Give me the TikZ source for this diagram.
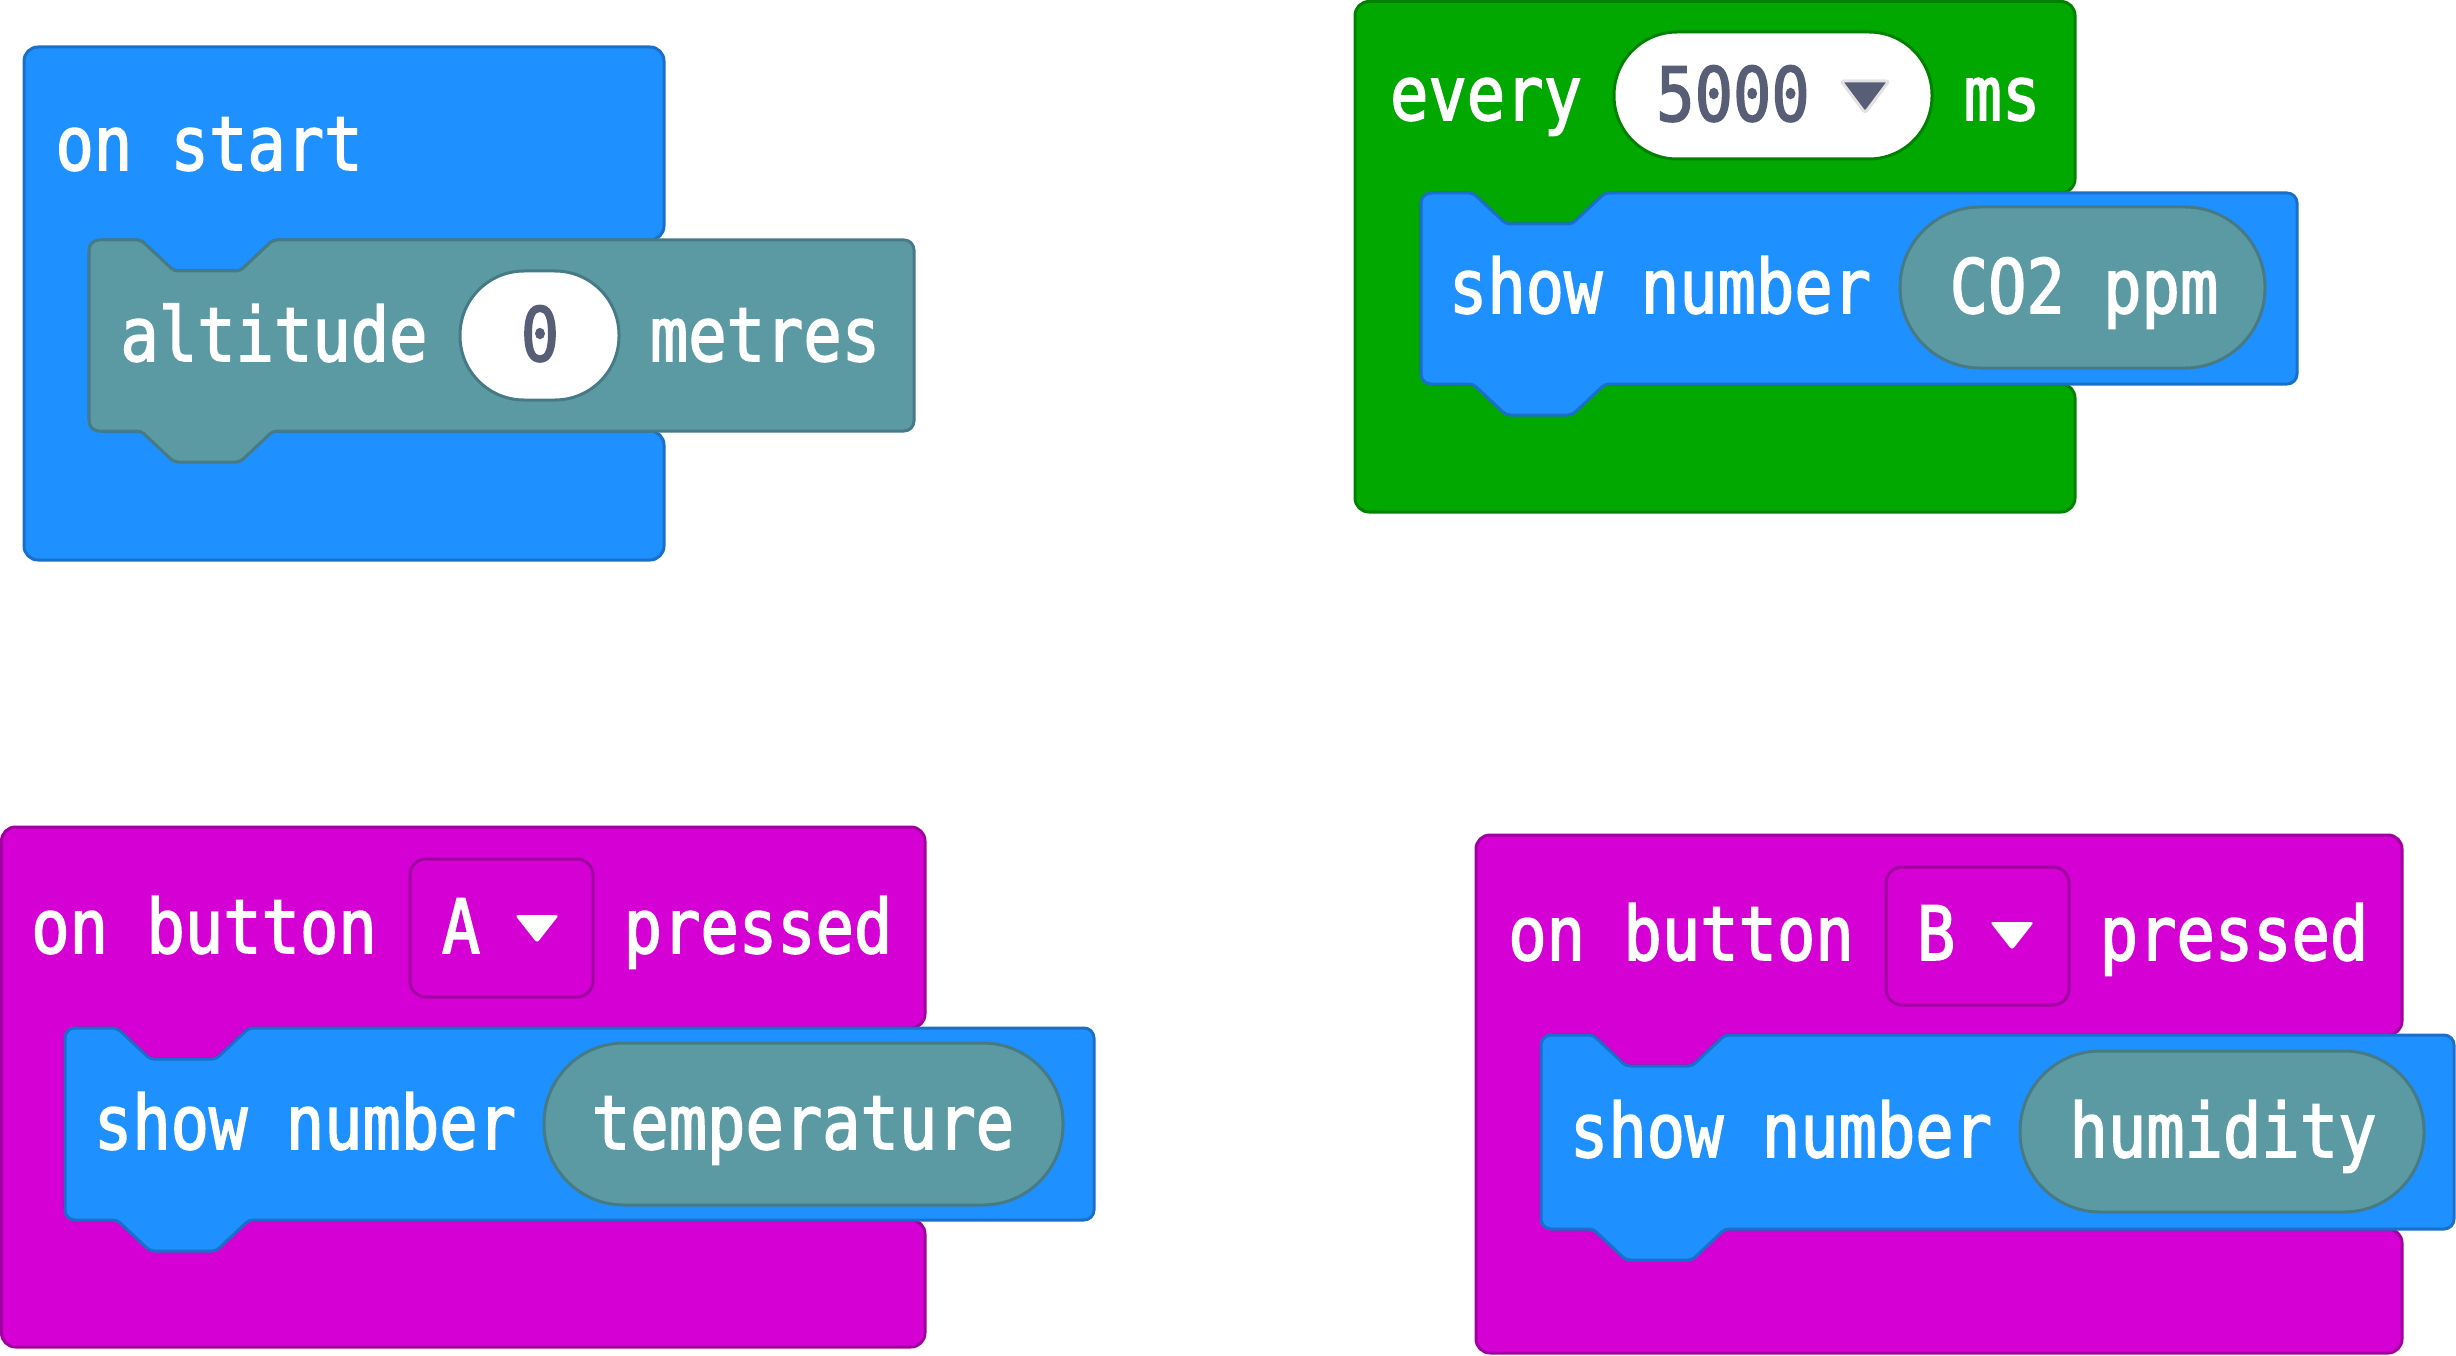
\documentclass[tikz,border=0pt]{standalone}
\usepackage{fontspec}
\newfontfamily\blockfont[FakeStretch=0.85,FakeBold=2]{DejaVu Sans Mono}
\usetikzlibrary{calc}
\definecolor{blkblue}{HTML}{1E90FF}
\definecolor{blkblueline}{HTML}{1A6FC8}
\definecolor{blkteal}{HTML}{5C9AA3}
\definecolor{blktealline}{HTML}{467A84}
\definecolor{blkgreen}{HTML}{00A800}
\definecolor{blkgreenline}{HTML}{008200}
\definecolor{blkpink}{HTML}{D400D4}
\definecolor{blkpinkline}{HTML}{A000A0}
\definecolor{valgrey}{HTML}{575E75}
\definecolor{arrowrim}{HTML}{E2E2E2}
\newcommand{\hatblock}[8]{%
  \filldraw[#1] (#2,#6) -- (#2,#3) -- (#4,#3) -- (#4,#6) [rounded corners=4pt] -- (#8+184,#6) -- (#8+151,#6+31)
    -- (#8+85,#6+31) -- (#8+52,#6) [rounded corners=14pt] -- (#8,#6) -- (#8,#7)
    -- (#4,#7) -- (#4,#5) -- (#2,#5) -- cycle;}
\newcommand{\stackblock}[5]{%
  \filldraw[#1] (#2,#3+60) -- (#2,#3) [rounded corners=4pt] -- (#2+52,#3) -- (#2+85,#3+31) -- (#2+151,#3+31)
    -- (#2+184,#3) [rounded corners=10pt] -- (#4,#3) -- (#4,#5) [rounded corners=4pt] -- (#2+184,#5) -- (#2+151,#5+31)
    -- (#2+85,#5+31) -- (#2+52,#5) [rounded corners=10pt] -- (#2,#5) -- cycle;}

\begin{document}
\begin{tikzpicture}[x=1pt,y=-1pt]
        \useasboundingbox (0,0) rectangle (2456,1356);
        \tikzset{
            lbl/.style={font=\blockfont\fontsize{75pt}{80pt}\selectfont, text=white, inner sep=0pt, anchor=base},
            val/.style={lbl, text=valgrey},
            outer/.style={line width=3pt, rounded corners=14pt},
            inner/.style={line width=3pt, rounded corners=10pt},
            pill/.style={line width=3pt, rounded corners=#1}
        }

        % on start
        \begin{scope}
            \hatblock{outer, fill=blkblue, draw=blkblueline}{24}{47}{664}{560}{240}{431}{89}
            \stackblock{inner, fill=blkteal, draw=blktealline}{89}{240}{914}{431}
            \filldraw[pill=64pt, fill=white, draw=blktealline] (460,271) rectangle (619,400);
            \node[lbl] (start) at (209,170) {on start};
            \node[lbl] (alt) at (274,361) {altitude};
            \node[val] (altval) at (540,361) {0};
            \node[lbl] (metres) at (765,361) {metres};
        \end{scope}

        % every 5000 ms
        \begin{scope}
            \hatblock{outer, fill=blkgreen, draw=blkgreenline}{1355}{1.5}{2075}{512}{193}{384}{1421}
            \stackblock{inner, fill=blkblue, draw=blkblueline}{1421}{193}{2297}{384}
            \filldraw[pill=63pt, fill=white, draw=blkgreenline] (1614,32) rectangle (1932,159);
            \filldraw[pill=80pt, fill=blkteal, draw=blktealline] (1900,207) rectangle (2265,368);
            \node[lbl] (every) at (1486,120) {every};
            \node[val] (period) at (1733,121) {5000};
            \filldraw[fill=valgrey, draw=arrowrim, line width=3pt, rounded corners=3pt]
                (1841,81) -- (1889,81) -- (1865,113) -- cycle;
            \node[lbl] (ms) at (2002,120) {ms};
            \node[lbl] (show1) at (1660,313) {show number};
            \node[lbl] (co2) at (2084,313) {CO2 ppm};
        \end{scope}

        % on button A pressed
        \begin{scope}
            \hatblock{outer, fill=blkpink, draw=blkpinkline}{1.5}{827}{925}{1347}{1028}{1220}{65}
            \stackblock{inner, fill=blkblue, draw=blkblueline}{65}{1028}{1094}{1220}
            \draw[pill=16pt, draw=blkpinkline] (410,859) rectangle (593,997);
            \filldraw[pill=80pt, fill=blkteal, draw=blktealline] (544,1043) rectangle (1063,1205);
            \node[lbl] (btnA) at (204,953) {on button};
            \node[lbl] (keyA) at (461,953) {A};
            \fill[white, rounded corners=3pt] (515,915) -- (559,915) -- (537,943) -- cycle;
            \node[lbl] (pressA) at (758,953) {pressed};
            \node[lbl] (show2) at (305,1149) {show number};
            \node[lbl] (temp) at (803,1149) {temperature};
        \end{scope}

        % on button B pressed
        \begin{scope}
            \hatblock{outer, fill=blkpink, draw=blkpinkline}{1476}{835}{2402}{1353}{1035}{1229}{1541}
            \stackblock{inner, fill=blkblue, draw=blkblueline}{1541}{1035}{2454}{1229}
            \draw[pill=16pt, draw=blkpinkline] (1886,867) rectangle (2069,1005);
            \filldraw[pill=80pt, fill=blkteal, draw=blktealline] (2020,1051) rectangle (2424,1212);
            \node[lbl] (btnB) at (1681,960) {on button};
            \node[lbl] (keyB) at (1936,960) {B};
            \fill[white, rounded corners=3pt] (1990,922) -- (2034,922) -- (2012,950) -- cycle;
            \node[lbl] (pressB) at (2234,960) {pressed};
            \node[lbl] (show3) at (1781,1157) {show number};
            \node[lbl] (humid) at (2223,1157) {humidity};
        \end{scope}

\end{tikzpicture}
\end{document}
